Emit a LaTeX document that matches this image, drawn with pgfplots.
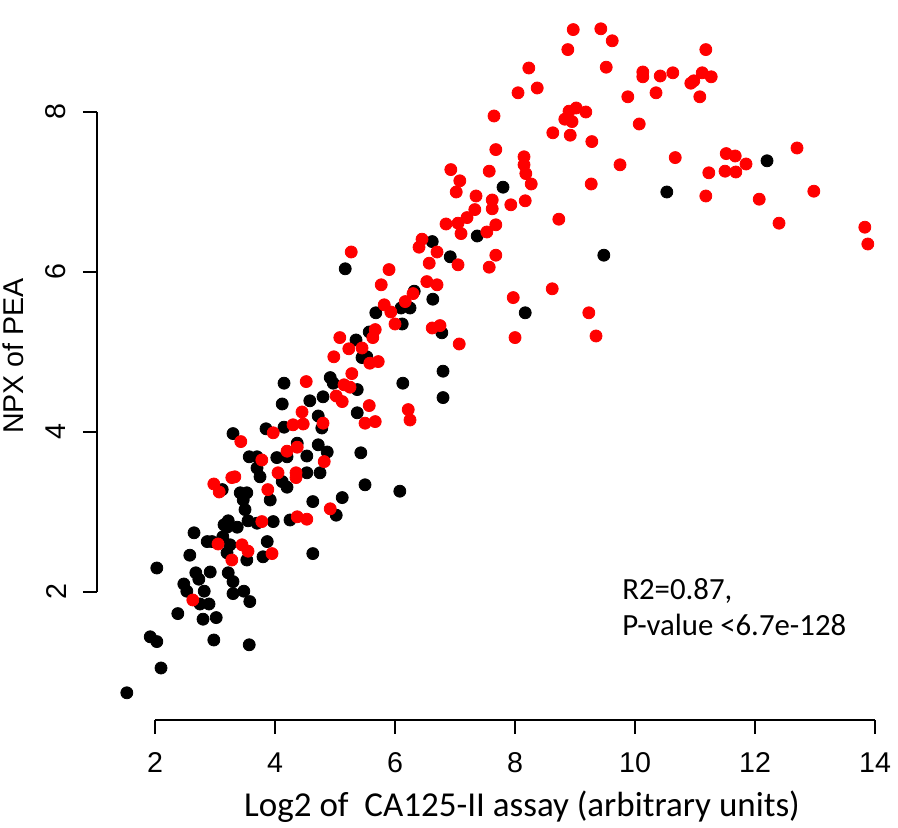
\documentclass[border=0pt]{standalone}
\usepackage{fontspec}
\setmainfont{Liberation Sans}
\newfontfamily\calibri{Carlito}
\usepackage{pgfplots}
\pgfplotsset{compat=1.18}
\begin{document}
\begin{tikzpicture}
\begin{axis}[
  scale only axis, width=400.5pt, height=360pt,
  xmin=1.033, xmax=14.383, ymin=0.4, ymax=9.4,
  axis x line*=bottom, axis y line*=left,
  axis line style={draw=none},
  xtick={2,4,...,14}, ytick={2,4,6,8},
  xticklabels={}, yticklabels={},
  tick align=outside, major tick length=7pt,
  tick style={black, line width=0.65pt},
  clip=false,
]
\addplot[only marks, mark=*, mark size=3pt, color=black, draw=black, fill=black] coordinates {
(7.80,7.06) (10.53,7.00) (12.20,7.39) (9.48,6.21) (8.17,5.49) (6.62,6.38) (6.92,6.19) (7.37,6.45) (6.32,5.76) (6.63,5.66) (6.25,5.55) (6.10,5.55) (6.78,5.24) (5.17,6.04) (5.68,5.49) (6.12,5.35) (5.57,5.25) (5.35,5.15) (5.45,4.93) (5.53,4.94) (6.80,4.76) (6.80,4.43) (6.13,4.61) (4.15,4.61) (4.92,4.68) (4.97,4.61) (5.37,4.53) (4.12,4.35) (4.58,4.39) (4.80,4.44) (5.37,4.24) (4.72,4.20) (4.78,4.05) (3.85,4.04) (4.15,4.06) (3.30,3.98) (4.37,3.86) (4.72,3.84) (4.87,3.75) (3.57,3.69) (3.70,3.69) (4.03,3.68) (4.20,3.69) (4.53,3.70) (5.43,3.74) (3.70,3.55) (3.75,3.44) (4.12,3.38) (4.20,3.31) (4.53,3.49) (4.75,3.49) (5.50,3.34) (6.08,3.26) (3.12,3.28) (3.42,3.24) (3.53,3.24) (3.92,3.15) (3.47,3.15) (3.50,3.03) (4.63,3.13) (5.12,3.18) (5.02,2.96) (4.25,2.90) (3.97,2.88) (3.22,2.89) (3.20,2.81) (3.37,2.81) (3.55,2.89) (3.70,2.86) (2.65,2.74) (2.87,2.63) (2.95,2.63) (3.13,2.69) (3.25,2.59) (3.87,2.63) (2.58,2.46) (3.20,2.49) (3.53,2.40) (3.80,2.44) (4.63,2.48) (2.03,2.30) (2.92,2.25) (2.68,2.24) (2.73,2.16) (3.22,2.24) (3.30,2.13) (3.30,1.98) (2.48,2.10) (2.53,2.01) (2.82,2.01) (3.48,2.01) (3.58,1.88) (2.75,1.85) (2.90,1.85) (2.38,1.73) (2.80,1.66) (3.02,1.68) (1.92,1.44) (2.03,1.38) (2.98,1.40) (3.57,1.34) (2.10,1.05) (1.53,0.74) (3.15,2.84)
};
\addplot[only marks, mark=*, mark size=3pt, color=red, draw=red, fill=red] coordinates {
(8.97,9.03) (9.43,9.04) (9.62,8.89) (8.88,8.78) (8.23,8.55) (9.52,8.56) (8.37,8.30) (8.05,8.24) (11.18,8.78) (10.13,8.50) (10.13,8.44) (10.42,8.45) (10.63,8.49) (11.12,8.49) (11.27,8.44) (10.98,8.39) (10.93,8.36) (10.35,8.24) (11.08,8.19) (9.88,8.19) (7.65,7.95) (8.90,8.01) (9.02,8.05) (9.18,8.00) (8.83,7.91) (8.95,7.88) (10.07,7.85) (8.63,7.74) (8.92,7.71) (9.28,7.63) (7.68,7.53) (8.15,7.44) (8.15,7.34) (8.18,7.23) (8.27,7.10) (7.57,7.26) (9.75,7.34) (10.67,7.43) (11.52,7.48) (11.50,7.26) (11.23,7.24) (9.27,7.10) (11.18,6.95) (11.67,7.45) (11.85,7.35) (11.68,7.25) (12.70,7.55) (12.07,6.91) (12.98,7.01) (12.40,6.61) (13.83,6.56) (13.88,6.35) (6.93,7.28) (7.08,7.14) (7.02,7.00) (7.35,6.95) (7.62,6.90) (7.62,6.79) (7.93,6.84) (8.17,6.89) (7.33,6.78) (7.20,6.68) (6.85,6.60) (7.05,6.61) (7.10,6.48) (7.68,6.59) (7.53,6.50) (8.73,6.66) (6.45,6.41) (6.40,6.31) (6.70,6.25) (6.57,6.11) (7.05,6.09) (7.68,6.21) (7.57,6.06) (6.53,5.88) (6.70,5.84) (6.30,5.73) (6.17,5.63) (8.62,5.79) (7.97,5.68) (9.23,5.49) (6.62,5.30) (6.75,5.33) (8.00,5.18) (7.07,5.10) (9.35,5.20) (5.27,6.25) (5.90,6.03) (5.77,5.84) (5.82,5.59) (5.93,5.50) (6.00,5.35) (5.67,5.28) (5.63,5.18) (5.08,5.18) (5.23,5.04) (5.45,5.05) (4.98,4.94) (5.58,4.86) (5.72,4.88) (5.28,4.73) (4.52,4.63) (5.15,4.59) (5.25,4.56) (5.02,4.45) (5.12,4.38) (4.45,4.25) (5.57,4.33) (6.22,4.28) (6.25,4.15) (4.30,4.09) (4.47,4.10) (4.80,4.11) (5.50,4.11) (5.67,4.13) (3.97,3.99) (3.43,3.88) (4.20,3.76) (4.37,3.81) (3.78,3.65) (4.82,3.63) (4.05,3.49) (4.35,3.49) (4.35,3.43) (2.98,3.35) (3.07,3.25) (3.28,3.43) (3.33,3.44) (3.88,3.28) (4.92,3.04) (4.37,2.94) (4.53,2.91) (3.78,2.88) (3.05,2.60) (3.45,2.59) (3.55,2.51) (3.28,2.40) (3.95,2.48) (2.63,1.90)
};
% axis lines (R style, spanning first to last tick)
\draw[line width=0.65pt] (axis cs:2,0.4) -- (axis cs:14,0.4);
\draw[line width=0.65pt] (axis cs:1.033,2) -- (axis cs:1.033,8);
% tick labels
\pgfplotsinvokeforeach{2,4,6,8,10,12,14}{
  \node[font=\fontsize{14.3}{16}\selectfont, anchor=center, inner sep=0pt] at (axis cs:#1,-0.1375) {#1};
}
\pgfplotsinvokeforeach{2,4,6,8}{
  \node[font=\fontsize{14.3}{16}\selectfont, rotate=90, anchor=center, inner sep=0pt] at (axis cs:0.35,#1) {#1};
}
% axis titles
\node[font=\fontsize{14.3}{16}\selectfont, rotate=90, anchor=center, inner sep=0pt] at (axis cs:-0.367,4.95) {NPX of PEA};
\node[font=\calibri\fontsize{17.5}{20}\selectfont, anchor=base, inner sep=0pt] at (axis cs:8.117,-0.8125) {Log2 of\ \ CA125-II assay (arbitrary units)};
% annotation
\node[font=\calibri\fontsize{15.4}{18}\selectfont, anchor=base west, inner sep=0pt] at (axis cs:9.783,1.9) {R2=0.87,};
\node[font=\calibri\fontsize{15.4}{18}\selectfont, anchor=base west, inner sep=0pt] at (axis cs:9.783,1.45) {P-value <6.7e-128};
\end{axis}
\pgfresetboundingbox
\path (-48.5pt,-54pt) rectangle (400.5pt,360pt);
\end{tikzpicture}
\end{document}
